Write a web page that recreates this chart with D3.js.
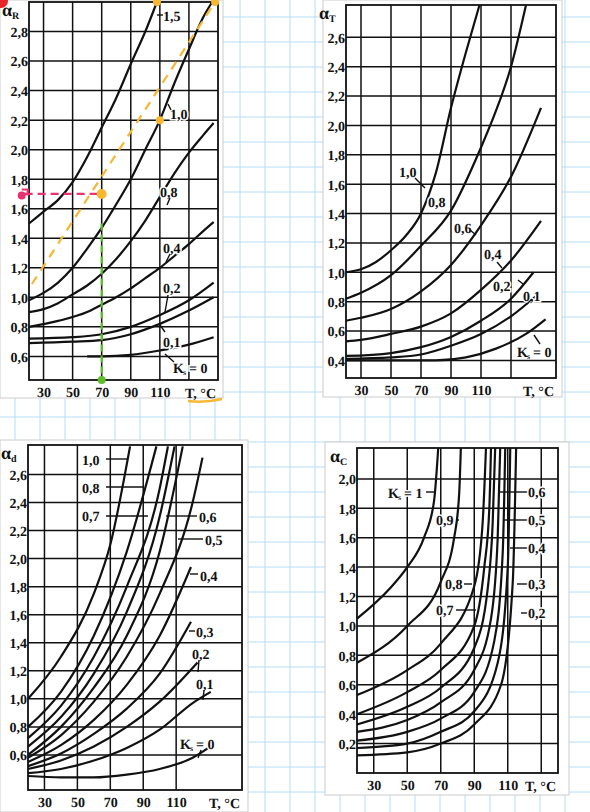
<!DOCTYPE html>
<html><head><meta charset="utf-8">
<script src="https://cdn.jsdelivr.net/npm/d3@7"></script>
<style>body{margin:0;background:#fff}svg{display:block}text{font-family:"Liberation Serif","DejaVu Serif",serif;fill:#111;font-weight:bold;-webkit-font-smoothing:antialiased;text-rendering:geometricPrecision}</style>
</head><body><div id="root"></div>
<script>
const width = 590, height = 812;

// Data (T in °C, alpha value)
const tickT = [30, 50, 70, 90, 110];

const aR_15 = [[20,1.5],[30,1.58],[40,1.66],[50,1.78],[60,1.95],[70,2.15],[80,2.35],[90,2.58],[100,2.8],[108,3.0]];
const aR_10 = [[20,0.98],[30,1.03],[40,1.1],[50,1.2],[60,1.33],[70,1.47],[80,1.63],[90,1.8],[100,2.0],[110,2.2],[120,2.45],[130,2.68],[140,2.9],[146,3.0]];
const aR_08 = [[20,0.9],[30,0.92],[40,0.96],[50,1.02],[60,1.08],[70,1.16],[80,1.26],[90,1.38],[100,1.52],[110,1.68],[120,1.84],[130,1.98],[140,2.1],[147,2.18]];
const aR_04 = [[20,0.8],[40,0.84],[60,0.9],[70,0.95],[80,1.0],[90,1.06],[100,1.13],[110,1.2],[120,1.28],[130,1.36],[140,1.45],[147,1.51]];
const aR_02 = [[20,0.72],[50,0.73],[70,0.75],[90,0.8],[110,0.88],[130,0.98],[147,1.1]];
const aR_01 = [[20,0.69],[50,0.7],[70,0.71],[90,0.75],[110,0.82],[130,0.91],[147,1.0]];
const aR_00 = [[60,0.6],[70,0.6],[90,0.61],[110,0.64],[130,0.68],[147,0.73]];

const aT_10 = [[20,1.0],[30,1.02],[40,1.07],[50,1.15],[60,1.25],[70,1.4],[80,1.68],[90,2.12],[100,2.5],[109,2.82]];
const aT_08 = [[20,0.82],[30,0.86],[50,0.98],[70,1.18],[90,1.42],[110,1.85],[120,2.1],[130,2.4],[140,2.82]];
const aT_06 = [[20,0.67],[30,0.69],[50,0.75],[70,0.87],[90,1.05],[110,1.32],[130,1.65],[150,2.12]];
const aT_04 = [[20,0.53],[30,0.54],[50,0.58],[70,0.63],[90,0.72],[110,0.88],[130,1.08],[150,1.35]];
const aT_02 = [[20,0.43],[50,0.45],[70,0.49],[90,0.56],[110,0.67],[130,0.82],[145,1.0]];
const aT_01 = [[20,0.41],[50,0.42],[70,0.44],[90,0.5],[110,0.58],[130,0.7],[148,0.85]];
const aT_00 = [[20,0.4],[50,0.4],[80,0.4],[100,0.42],[120,0.48],[140,0.58],[153,0.68]];

const ad_10 = [[20,1.0],[40,1.3],[60,1.75],[70,2.1],[82,2.8]];
const ad_09 = [[20,0.8],[40,1.05],[60,1.45],[80,2.05],[98,2.8]];
const ad_08 = [[20,0.72],[40,0.95],[60,1.3],[80,1.8],[100,2.5],[105,2.8]];
const ad_07 = [[20,0.66],[40,0.87],[60,1.18],[80,1.62],[100,2.3],[109,2.8]];
const ad_06 = [[20,0.6],[40,0.8],[60,1.08],[80,1.45],[100,2.05],[114,2.8]];
const ad_05 = [[20,0.58],[40,0.74],[60,0.98],[80,1.3],[100,1.75],[120,2.4],[126,2.72]];
const ad_04 = [[20,0.55],[40,0.67],[60,0.85],[80,1.1],[100,1.45],[119,1.94]];
const ad_03 = [[20,0.52],[40,0.61],[60,0.75],[80,0.93],[100,1.18],[119,1.55]];
const ad_02 = [[20,0.5],[40,0.56],[60,0.66],[80,0.8],[100,0.98],[123,1.26]];
const ad_01 = [[20,0.47],[40,0.5],[60,0.56],[80,0.65],[100,0.78],[120,0.97],[131,1.05]];
const ad_00 = [[20,0.45],[40,0.44],[60,0.44],[80,0.46],[100,0.5],[120,0.58],[132,0.67]];

const ac_10 = [[20,1.05],[40,1.26],[50,1.4],[60,1.6],[66,1.85],[68.5,2.21]];
const ac_09 = [[20,0.75],[50,1.0],[70,1.3],[78,1.6],[81,1.9],[82,2.21]];
const ac_08 = [[20,0.53],[50,0.7],[70,0.88],[90,1.27],[95,1.7],[97,2.21]];
const ac_07 = [[20,0.4],[50,0.55],[70,0.7],[90,1.0],[96,1.4],[99,1.8],[100,2.21]];
const ac_06 = [[20,0.33],[50,0.45],[70,0.58],[90,0.85],[98,1.25],[101,1.7],[102.5,2.21]];
const ac_05 = [[20,0.28],[50,0.36],[70,0.48],[90,0.7],[100,1.05],[104,1.6],[105.5,2.21]];
const ac_04 = [[20,0.22],[50,0.28],[70,0.37],[90,0.55],[102,0.9],[107,1.5],[108.5,2.21]];
const ac_03 = [[20,0.17],[50,0.2],[70,0.28],[90,0.42],[104,0.75],[110,1.4],[111.5,2.21]];
const ac_02 = [[20,0.12],[50,0.14],[70,0.2],[90,0.33],[106,0.6],[113,1.3],[115,2.21]];

const svg = d3.select('#root').append('svg').attr('width', width).attr('height', height);

// Blue squared paper
const paper = svg.append('g').attr('stroke', '#b5dcf7').attr('stroke-width', 1);
paper.selectAll('line.v').data(d3.range(15, width, 25)).join('line')
  .attr('x1', d => d).attr('x2', d => d).attr('y1', 0).attr('y2', height);
paper.selectAll('line.h').data(d3.range(17, height, 25)).join('line')
  .attr('y1', d => d).attr('y2', d => d).attr('x1', 0).attr('x2', width);

// White boxes behind each chart
const boxes = [[0, 0, 223, 398], [323, 0, 239, 397], [0, 440, 248, 372], [325, 442, 244, 353]];
svg.selectAll('rect.box').data(boxes).join('rect')
  .attr('x', d => d[0]).attr('y', d => d[1]).attr('width', d => d[2]).attr('height', d => d[3])
  .attr('fill', '#fff').attr('stroke', '#ccc');

function label(g, x, y, txt, anchor) {
  g.append('text').attr('x', x).attr('y', y).attr('font-size', 14).attr('text-anchor', anchor || 'start')
    .attr('stroke', '#fff').attr('stroke-width', 3).attr('paint-order', 'stroke').text(txt);
}
function leader(g, x1, y1, x2, y2) {
  g.append('line').attr('x1', x1).attr('y1', y1).attr('x2', x2).attr('y2', y2)
    .attr('stroke', '#111').attr('stroke-width', 1.4);
}
function ks(g, x, y, rest) {
  label(g, x, y, 'K');
  g.append('text').attr('x', x + 10).attr('y', y + 2).attr('font-size', 8).text('s');
  label(g, x + 16, y, rest);
}

function panel(o) {
  const g = svg.append('g');
  const x = d3.scaleLinear().domain(o.tDom).range(o.xr);
  const y = d3.scaleLinear().domain(o.aDom).range(o.yr);
  const grid = g.append('g').attr('stroke', '#111').attr('stroke-width', 1.5);
  grid.selectAll('line.v').data(o.vGrid).join('line')
    .attr('x1', d => x(d)).attr('x2', d => x(d)).attr('y1', o.yr[0]).attr('y2', o.yr[1]);
  grid.selectAll('line.h').data(o.aTicks).join('line')
    .attr('y1', d => y(d)).attr('y2', d => y(d)).attr('x1', o.xr[0]).attr('x2', o.xr[1]);
  g.append('rect').attr('x', o.xr[0]).attr('y', o.yr[1]).attr('width', o.xr[1] - o.xr[0])
    .attr('height', o.yr[0] - o.yr[1]).attr('fill', 'none').attr('stroke', '#111').attr('stroke-width', 1.8);

  const yAxis = g.append('g').attr('transform', `translate(${o.xr[0] - 1},0)`)
    .call(d3.axisLeft(y).tickValues(o.aTicks).tickSize(0).tickPadding(0)
      .tickFormat(d => d3.format('.1f')(d).replace('.', ',')));
  yAxis.select('.domain').remove();
  yAxis.selectAll('text').attr('font-size', 14).attr('font-family', 'Liberation Serif').attr('dy', '0.35em');

  const xAxis = g.append('g').attr('transform', `translate(0,${o.yr[0] + 13})`)
    .call(d3.axisBottom(x).tickValues(tickT).tickSize(0).tickPadding(0).tickFormat(d3.format('d')));
  xAxis.select('.domain').remove();
  xAxis.selectAll('text').attr('font-size', 14).attr('font-family', 'Liberation Serif').attr('dy', '0.3em');

  g.append('text').attr('x', o.xr[1] - 2).attr('y', o.yr[0] + 18).attr('text-anchor', 'end')
    .attr('font-size', 14).text('T, °C');
  const t = g.append('text').attr('x', o.xr[0] - 27).attr('y', o.yr[1] + 14).attr('font-size', 18)
    .attr('font-weight', 'normal').text('α');
  t.append('tspan').attr('font-size', 10).attr('dy', 3).text(o.sub);

  const line = d3.line().x(d => x(d[0])).y(d => y(d[1])).curve(d3.curveMonotoneX);
  g.append('g').attr('fill', 'none').attr('stroke', '#111').attr('stroke-width', 2.2)
    .selectAll('path').data(o.curves).join('path').attr('d', line);
  return { g, x, y };
}

// Panel 1: alpha R
const p1 = panel({ tDom: [20, 150], xr: [29, 218], aDom: [0.44, 3.0], yr: [380, 2], sub: 'R',
  vGrid: [30, 50, 70, 90, 110, 130], aTicks: d3.range(0.6, 2.81, 0.2),
  curves: [aR_15, aR_10, aR_08, aR_04, aR_02, aR_01, aR_00] });
label(p1.g, 163, 21, '1,5'); leader(p1.g, 157, 15, 163, 15);
label(p1.g, 170, 119, '1,0'); leader(p1.g, 171, 110, 168, 104);
label(p1.g, 160, 197, '0,8'); leader(p1.g, 170, 198, 167, 205);
label(p1.g, 163, 253, '0,4'); leader(p1.g, 170, 254, 166, 262);
label(p1.g, 163, 293, '0,2'); leader(p1.g, 168, 295, 165, 312);
label(p1.g, 163, 347, '0,1'); leader(p1.g, 165, 332, 160, 325);
ks(p1.g, 173, 373, '= 0'); leader(p1.g, 174, 362, 165, 354);

// hand-drawn annotations on panel 1
const ann = p1.g.append('g').attr('fill', 'none').attr('stroke-width', 2.2);
const { x: x1, y: y1 } = p1;
ann.append('line').attr('x1', x1(22)).attr('y1', y1(1.09)).attr('x2', x1(148)).attr('y2', y1(3.0))
  .attr('stroke', '#f7b731').attr('stroke-dasharray', '9,7');
ann.append('line').attr('x1', x1(17)).attr('y1', y1(1.7)).attr('x2', x1(70)).attr('y2', y1(1.7))
  .attr('stroke', '#e8336f').attr('stroke-dasharray', '8,5');
ann.append('path').attr('d', `M${x1(15)},${y1(1.73)} h6 v6`).attr('stroke', '#e8336f');
ann.append('line').attr('x1', x1(70)).attr('y1', y1(1.5)).attr('x2', x1(70)).attr('y2', y1(0.45))
  .attr('stroke', '#5cbf2a').attr('stroke-dasharray', '7,4');
const dots = [[70, 1.7, 5, '#f7b731'], [110, 2.2, 4, '#f7b731'], [108, 3.0, 4, '#f7b731'], [148, 3.0, 4, '#f7b731'],
  [15, 1.69, 4, '#e8336f'], [70, 0.44, 4, '#5cbf2a']];
p1.g.selectAll('circle.dot').data(dots).join('circle')
  .attr('cx', d => x1(d[0])).attr('cy', d => y1(d[1])).attr('r', d => d[2]).attr('fill', d => d[3]);
svg.append('circle').attr('cx', 1).attr('cy', 1).attr('r', 7).attr('fill', '#e8232a');
svg.append('path').attr('d', 'M188,401 Q205,403 222,399').attr('fill', 'none')
  .attr('stroke', '#f7b731').attr('stroke-width', 2.5);

// Panel 2: alpha T
const p2 = panel({ tDom: [20, 160], xr: [346, 556], aDom: [0.28, 2.82], yr: [378, 5], sub: 'T',
  vGrid: [30, 50, 70, 90, 110, 130], aTicks: d3.range(0.4, 2.61, 0.2),
  curves: [aT_10, aT_08, aT_06, aT_04, aT_02, aT_01, aT_00] });
label(p2.g, 399, 177, '1,0'); leader(p2.g, 415, 178, 425, 188);
label(p2.g, 428, 207, '0,8');
label(p2.g, 454, 233, '0,6'); leader(p2.g, 470, 230, 476, 235);
label(p2.g, 484, 259, '0,4'); leader(p2.g, 497, 262, 502, 268);
label(p2.g, 493, 291, '0,2'); leader(p2.g, 518, 280, 523, 284);
label(p2.g, 523, 301, '0,1'); leader(p2.g, 532, 299, 527, 304);
ks(p2.g, 517, 357, '= 0'); leader(p2.g, 540, 344, 534, 335);

// Panel 3: alpha d
const p3 = panel({ tDom: [20, 150], xr: [28, 242], aDom: [0.35, 2.81], yr: [790, 445], sub: 'd',
  vGrid: [30, 50, 70, 90, 110], aTicks: d3.range(0.6, 2.61, 0.2),
  curves: [ad_10, ad_09, ad_08, ad_07, ad_06, ad_05, ad_04, ad_03, ad_02, ad_01, ad_00] });
label(p3.g, 82, 465, '1,0'); leader(p3.g, 106, 459, 127, 459);
label(p3.g, 82, 493, '0,8'); leader(p3.g, 106, 487, 143, 487);
label(p3.g, 82, 521, '0,7'); leader(p3.g, 106, 516, 148, 516);
label(p3.g, 199, 522, '0,6'); leader(p3.g, 166, 516, 197, 516);
label(p3.g, 205, 545, '0,5'); leader(p3.g, 178, 539, 203, 539);
label(p3.g, 200, 581, '0,4'); leader(p3.g, 190, 574, 198, 574);
label(p3.g, 196, 637, '0,3'); leader(p3.g, 189, 631, 195, 631);
label(p3.g, 192, 659, '0,2'); leader(p3.g, 199, 660, 198, 672);
label(p3.g, 196, 689, '0,1'); leader(p3.g, 204, 690, 203, 700);
ks(p3.g, 180, 749, '= 0'); leader(p3.g, 201, 750, 198, 758);

// Panel 4: alpha C
const p4 = panel({ tDom: [20, 140], xr: [357, 558], aDom: [0, 2.21], yr: [773, 448], sub: 'C',
  vGrid: [30, 50, 70, 90, 110, 130], aTicks: d3.range(0.2, 2.01, 0.2),
  curves: [ac_10, ac_09, ac_08, ac_07, ac_06, ac_05, ac_04, ac_03, ac_02] });
ks(p4.g, 388, 498, '= 1'); leader(p4.g, 426, 492, 436, 492);
label(p4.g, 436, 525, '0,9'); leader(p4.g, 456, 520, 459, 520);
label(p4.g, 445, 589, '0,8'); leader(p4.g, 464, 584, 472, 584);
label(p4.g, 436, 615, '0,7'); leader(p4.g, 456, 610, 476, 610);
const rightK = [['0,6', 492, 500], ['0,5', 520, 504], ['0,4', 548, 510], ['0,3', 584, 517], ['0,2', 613, 521]];
rightK.forEach(([k, yy, xs]) => { leader(p4.g, xs, yy, 528, yy); label(p4.g, 528, yy + 5, k); });
</script></body></html>
